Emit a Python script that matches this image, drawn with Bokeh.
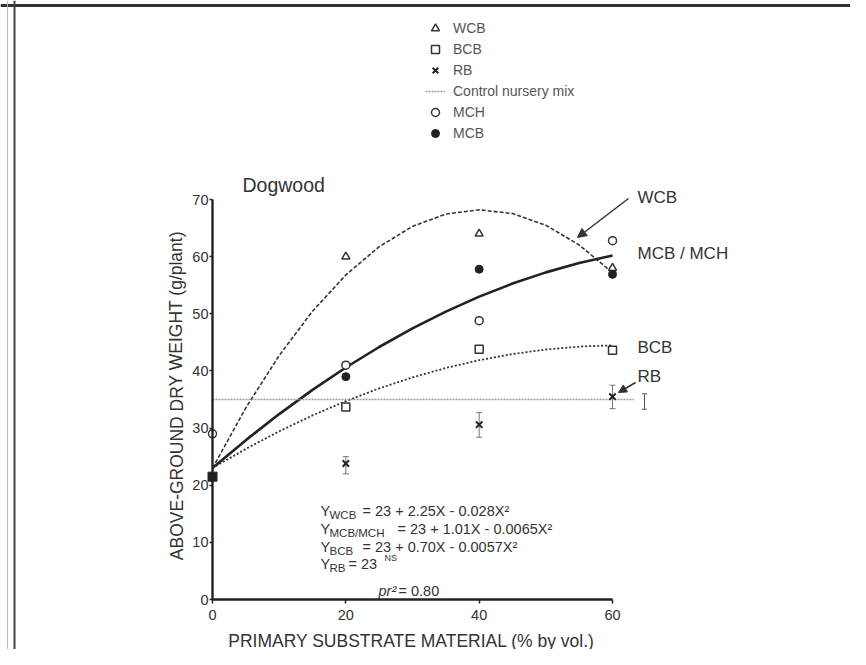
from bokeh.plotting import figure
from bokeh.models import (Range1d, FixedTicker, Legend, LegendItem, Label, Arrow, Span,
                          NormalHead, Whisker, TeeHead, ColumnDataSource)
from bokeh.embed import file_html
from bokeh.resources import INLINE

# ---------------- data ----------------
wcb_x = [20, 40, 60]
wcb_y = [60.0, 64.0, 58.0]
bcb_x = [20, 40, 60]
bcb_y = [33.7, 43.8, 43.6]
rb_x = [20, 40, 60]
rb_y = [23.8, 30.6, 35.5]
rb_lo = [22.0, 28.4, 33.4]
rb_hi = [25.0, 32.7, 37.5]
mch_x = [0, 20, 40, 60]
mch_y = [29.0, 41.0, 48.8, 62.8]
mcb_x = [20, 40, 60]
mcb_y = [39.0, 57.8, 56.9]
base_x = [0]
base_y = [21.5]
control_x = [0, 63.2]
control_y = [35.0, 35.0]
lsd_x = [64.8]
lsd_lo = [33.3]
lsd_hi = [36.0]

# fitted regression curves
fit_x = [0, 5, 10, 15, 20, 25, 30, 35, 40, 45, 50, 55, 60]
wcb_fit = [23.0, 33.55, 42.7, 50.45, 56.8, 61.75, 65.3, 67.45, 68.2, 67.55, 65.5, 62.05, 57.2]
mcb_mch_fit = [23.0, 27.89, 32.45, 36.69, 40.6, 44.19, 47.45, 50.39, 53.0, 55.29, 57.25, 58.89, 60.2]
bcb_fit = [23.0, 26.36, 29.43, 32.22, 34.72, 36.94, 38.87, 40.52, 41.88, 42.96, 43.75, 44.26, 44.48]

x_ticks = [0, 20, 40, 60]
y_ticks = [0, 10, 20, 30, 40, 50, 60, 70]

title_text = "Dogwood"
x_title = "PRIMARY SUBSTRATE MATERIAL (% by vol.)"
y_title = "ABOVE-GROUND DRY WEIGHT (g/plant)"
curve_names = ["WCB", "MCB / MCH", "BCB", "RB"]
eq_subs = ["WCB", "MCB/MCH", "BCB", "RB"]
eq_rest = ["= 23 + 2.25X - 0.028X\u00b2", "= 23 + 1.01X - 0.0065X\u00b2",
           "= 23 + 0.70X - 0.0057X\u00b2", "= 23"]
rb_sup = "NS"
r2_text = ["pr\u00b2", "= 0.80"]

# ---------------- layout helpers (picture pixels -> data units) ----------------
FONT = "Liberation Sans"
PXX = 6.667   # px per x unit
PXY = 5.714   # px per y unit
X0, Y0 = 212, 599   # pixel of the data origin


def dx(px):
    return (px - X0) / PXX


def dy(py):
    return (Y0 - py) / PXY


W, H = 850, 649

p = figure(width=W, height=H, output_backend="svg", toolbar_location=None,
           x_range=Range1d(dx(0), dx(W)), y_range=Range1d(dy(H), dy(0)),
           min_border_left=0, min_border_right=0, min_border_top=0, min_border_bottom=0)
p.outline_line_color = None
p.xgrid.visible = False
p.ygrid.visible = False
p.background_fill_color = "white"
p.border_fill_color = "white"

for ax, ticks, bnd in ((p.xaxis, x_ticks, (0, 60)), (p.yaxis, y_ticks, (0, 70))):
    ax.bounds = bnd
    ax.fixed_location = 0
    ax.ticker = FixedTicker(ticks=ticks, minor_ticks=[])
    ax.axis_line_width = 2.4
    ax.axis_line_color = "#222"
    ax.major_tick_line_color = "#222"
    ax.major_tick_line_width = 1.5
    ax.major_tick_in = 0
    ax.minor_tick_line_color = None
    ax.major_label_text_font = FONT
    ax.major_label_text_font_size = "14.5px"
    ax.major_label_text_color = "#333"
p.xaxis.major_tick_out = 4
p.xaxis.major_label_standoff = 6
p.yaxis.major_tick_out = 3
p.yaxis.major_label_standoff = 1

# scanned page frame lines
p.add_layout(Span(location=dy(5), dimension="width", line_color="#333", line_width=3))
p.add_layout(Span(location=dx(14), dimension="height", line_color="#444", line_width=2))
p.add_layout(Span(location=dx(7), dimension="height", line_color="#bbb", line_width=1))

# ---------------- curves ----------------
p.line(fit_x, wcb_fit, line_color="#333", line_width=1.6, line_dash="4 2")
p.line(fit_x, mcb_mch_fit, line_color="#222", line_width=2.6)
p.line(fit_x, bcb_fit, line_color="#333", line_width=1.8, line_dash="2 2")
r_ctrl = p.line(control_x, control_y, line_color="#999", line_width=1.3, line_dash="2 1")

# ---------------- error bars ----------------
rb_src = ColumnDataSource(dict(x=rb_x, lo=rb_lo, hi=rb_hi))
p.add_layout(Whisker(source=rb_src, base="x", lower="lo", upper="hi", line_color="#777",
                     line_width=1,
                     upper_head=TeeHead(size=6, line_color="#777"),
                     lower_head=TeeHead(size=6, line_color="#777")))
lsd_src = ColumnDataSource(dict(x=lsd_x, lo=lsd_lo, hi=lsd_hi))
p.add_layout(Whisker(source=lsd_src, base="x", lower="lo", upper="hi", line_color="#555",
                     line_width=1,
                     upper_head=TeeHead(size=5, line_color="#555"),
                     lower_head=TeeHead(size=5, line_color="#555")))

# ---------------- points ----------------
r_wcb = p.scatter(wcb_x, wcb_y, marker="triangle", size=8, fill_color="white",
                  line_color="#333", line_width=1.5)
r_bcb = p.scatter(bcb_x, bcb_y, marker="square", size=8, fill_color="white",
                  line_color="#333", line_width=1.5)
r_rb = p.scatter(rb_x, rb_y, marker="x", size=9, line_color="#222", line_width=2)
r_mch = p.scatter(mch_x, mch_y, marker="circle", size=8, fill_color="white",
                  line_color="#333", line_width=1.5)
r_mcb = p.scatter(mcb_x, mcb_y, marker="circle", size=8, fill_color="#222",
                  line_color="#222", line_width=1)
p.scatter(base_x, base_y, marker="square", size=9, fill_color="#222", line_color="#222")

# ---------------- legend ----------------
legend = Legend(items=[
    LegendItem(label="WCB", renderers=[r_wcb]),
    LegendItem(label="BCB", renderers=[r_bcb]),
    LegendItem(label="RB", renderers=[r_rb]),
    LegendItem(label="Control nursery mix", renderers=[r_ctrl]),
    LegendItem(label="MCH", renderers=[r_mch]),
    LegendItem(label="MCB", renderers=[r_mcb]),
], location=(425, H - 143), padding=0, margin=0, spacing=1, glyph_height=20, glyph_width=20,
    label_height=20, label_standoff=8, border_line_color=None, background_fill_alpha=0,
    label_text_font=FONT, label_text_font_size="14px", label_text_color="#555")
p.add_layout(legend)

# ---------------- texts ----------------
def lab(x, y, text, size, color="#333", align="left", baseline="middle", angle=0,
        style="normal"):
    p.add_layout(Label(x=x, y=y, text=text, text_font=FONT, text_font_size=size,
                       text_color=color, text_align=align, text_baseline=baseline,
                       angle=angle, text_font_style=style))


lab(dx(242), dy(184), title_text, "19.5px")
lab(dx(411), dy(640), x_title, "17.5px", align="center")
lab(dx(176), dy(395), y_title, "17.5px", align="center", angle=1.5708)

name_y = [197, 253, 347, 376]
for name, py in zip(curve_names, name_y):
    lab(dx(637), dy(py), name, "17px")

p.add_layout(Arrow(x_start=dx(628), y_start=dy(198), x_end=dx(577), y_end=dy(237),
                   line_color="#333", line_width=1.5,
                   end=NormalHead(size=9, fill_color="#333", line_color="#333")))
p.add_layout(Arrow(x_start=dx(635), y_start=dy(382), x_end=dx(618), y_end=dy(392),
                   line_color="#333", line_width=1.5,
                   end=NormalHead(size=8, fill_color="#333", line_color="#333")))

eq_y = [510, 528, 546, 563]
eq_eq_x = [362, 397, 362, 348]
for sub, rest, py, ex in zip(eq_subs, eq_rest, eq_y, eq_eq_x):
    lab(dx(320), dy(py), "Y", "14.5px")
    lab(dx(329), dy(py + 4), sub, "11.5px")
    lab(dx(ex), dy(py), rest, "14.5px")
lab(dx(384), dy(557), rb_sup, "9px")

lab(dx(378), dy(590), r2_text[0], "14.5px", style="italic")
lab(dx(398), dy(590), r2_text[1], "14.5px")

open("out.html", "w").write(file_html(p, INLINE))
